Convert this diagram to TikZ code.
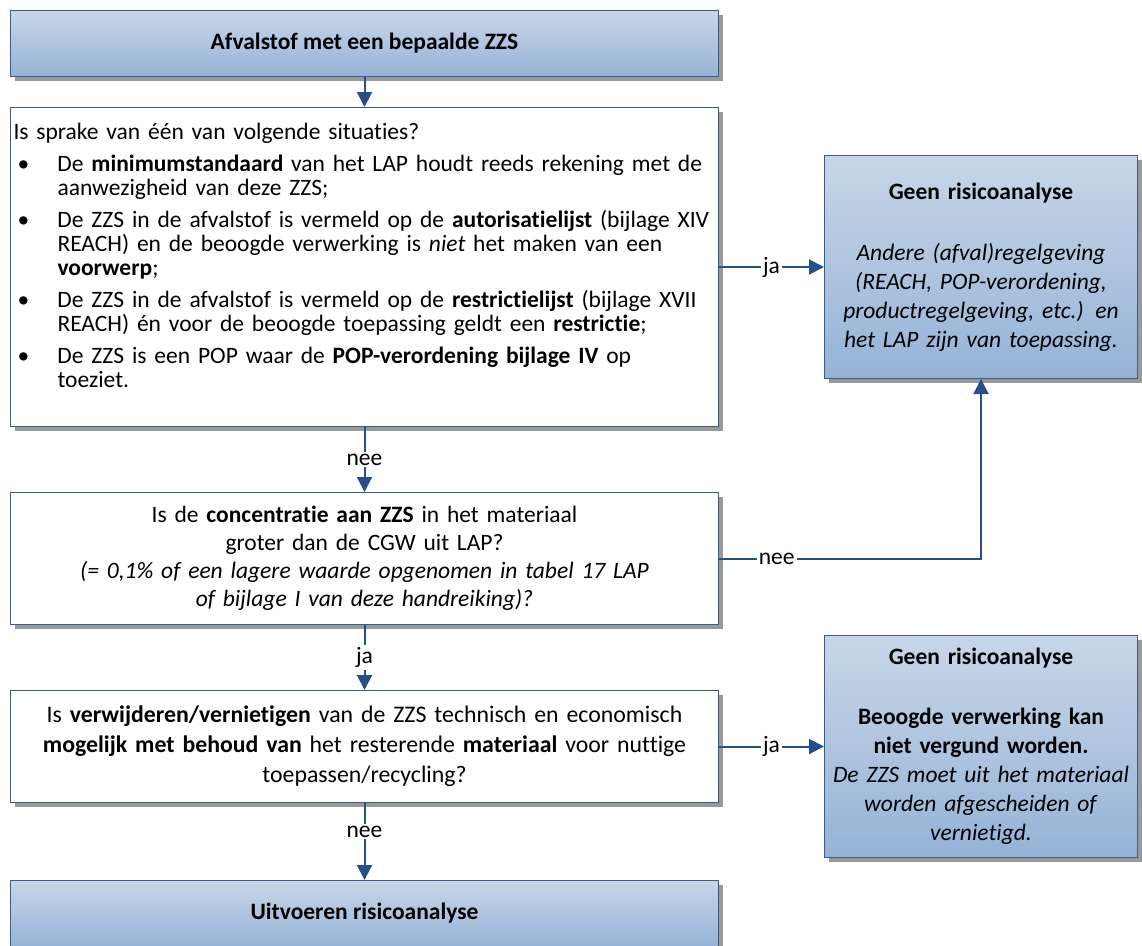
\documentclass[tikz,border=0pt]{standalone}
\usepackage{fontspec}
\setmainfont{Carlito}[Ligatures=NoCommon]
\usepackage{tikz}
\usetikzlibrary{arrows.meta,shadows}

\definecolor{rand}{RGB}{56,93,138}
\definecolor{pijlblauw}{RGB}{37,80,135}
\definecolor{vulboven}{RGB}{200,214,232}
\definecolor{vulonder}{RGB}{149,179,215}

\newcommand{\bul}{\hspace*{4pt}\makebox[40pt][l]{\textbullet}}
\newcommand{\ins}{\hspace*{44pt}}

\begin{document}
\begin{tikzpicture}[x=1pt,y=-1pt,
	font=\fontsize{23.5}{24}\selectfont,
	doos/.style={draw=rand,line width=1pt,anchor=north west,inner sep=3pt,
		drop shadow={shadow xshift=4pt,shadow yshift=-4pt,fill=black!40,opacity=1}},
	wit/.style={doos,fill=white},
	blauw/.style={doos,top color=vulboven,bottom color=vulonder,align=center},
	pijl/.style={draw=pijlblauw,line width=2pt,-{Triangle[length=15pt,width=15pt]}},
	lab/.style={fill=white,inner sep=2pt,text=black}]
	
	\useasboundingbox (0,0) rectangle (1142,945);
	
	% linker kolom
	\node[blauw,minimum width=708pt,minimum height=66pt] (start) at (10,10) {\textbf{Afvalstof met een bepaalde ZZS}};
	\node[wit,text width=702pt,minimum height=319pt,align=left] (q1) at (10,107) {Is sprake van één van volgende situaties?\\[8pt]
		\bul De \textbf{minimumstandaard} van het LAP houdt reeds rekening met de\\
		\ins aanwezigheid van deze ZZS;\\[8pt]
		\bul De ZZS in de afvalstof is vermeld op de \textbf{autorisatielijst} (bijlage XIV\\
		\ins REACH) en de beoogde verwerking is \textit{niet} het maken van een\\
		\ins \textbf{voorwerp};\\[8pt]
		\bul De ZZS in de afvalstof is vermeld op de \textbf{restrictielijst} (bijlage XVII\\
		\ins REACH) én voor de beoogde toepassing geldt een \textbf{restrictie};\\[8pt]
		\bul De ZZS is een POP waar de \textbf{POP-verordening bijlage IV} op\\
		\ins toeziet.\\ \mbox{}};
	\node[wit,text width=702pt,minimum height=132pt,align=center,font=\fontsize{23.5}{28}\selectfont] (q2) at (10,492) {Is de \textbf{concentratie aan ZZS} in het materiaal\\
		groter dan de CGW uit LAP?\\
		\textit{(= 0,1\% of een lagere waarde opgenomen in tabel 17 LAP}\\
		\textit{of bijlage I van deze handreiking)?}};
	\node[wit,text width=702pt,minimum height=112pt,align=center,font=\fontsize{23.8}{30}\selectfont] (q3) at (10,690) {Is \textbf{verwijderen/vernietigen} van de ZZS technisch en economisch\\
		\textbf{mogelijk met behoud van} het resterende \textbf{materiaal} voor nuttige\\
		toepassen/recycling?};
	\node[blauw,minimum width=708pt,minimum height=66pt] (eind) at (10,880) {\textbf{Uitvoeren risicoanalyse}};
	
	% rechter kolom
	\node[blauw,text width=307pt,minimum height=223pt,font=\fontsize{23.5}{29}\selectfont] (r1) at (824,155) {\textbf{Geen risicoanalyse}\\[32pt]
		\textit{Andere (afval)regelgeving}\\
		\textit{(REACH, POP-verordening,}\\
		\textit{productregelgeving, etc.) en}\\
		\textit{het LAP zijn van toepassing.}};
	\node[blauw,text width=307pt,minimum height=222pt,font=\fontsize{23.5}{29}\selectfont] (r2) at (824,635) {\textbf{Geen risicoanalyse}\\[31pt]
		\textbf{Beoogde verwerking kan}\\
		\textbf{niet vergund worden.}\\
		\textit{De ZZS moet uit het materiaal}\\
		\textit{worden afgescheiden of}\\
		\textit{vernietigd.}};
	
	\draw[pijl] (start) -- (q1);
	\draw[pijl] (q1) -- node[lab]{nee} (q2);
	\draw[pijl] (q2) -- node[lab]{ja} (q3);
	\draw[pijl] (q3) -- node[lab,pos=0.37]{nee} (eind);
	\draw[pijl] (q1) -- node[lab]{ja} (r1);
	\draw[pijl] (q2) -| node[lab,pos=0.11]{nee} (r1);
	\draw[pijl] (q3) -- node[lab]{ja} (r2);
\end{tikzpicture}
\end{document}
